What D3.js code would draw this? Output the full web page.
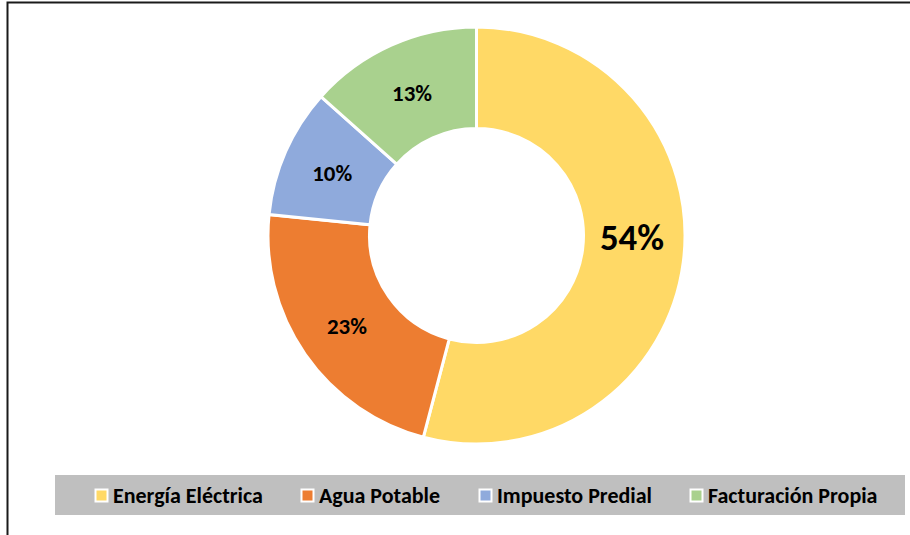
<!DOCTYPE html>
<html><head><meta charset="utf-8">
<script src="https://cdn.jsdelivr.net/npm/d3@7"></script>
<style>body{margin:0;background:#fff}svg{display:block}</style>
</head><body>
<svg id="c" width="910" height="535"></svg>
<script>
const categories = ["Energía Eléctrica", "Agua Potable", "Impuesto Predial", "Facturación Propia"];
const values = [54.1, 22.5, 10.0, 13.4];
const colors = ["#FFD966", "#ED7D31", "#8FAADC", "#A9D18E"];

const FONT = "Carlito, Calibri, 'Open Sans', sans-serif";
const svg = d3.select("#c");

function fitSize(txt, target, base) {
  const t = svg.append("text").attr("font-family", FONT).attr("font-weight", "bold")
    .attr("font-size", base).text(txt);
  const w = t.node().getComputedTextLength();
  t.remove();
  return base * target / w;
}

// frame
svg.append("rect").attr("x", 7.5).attr("y", 2.5).attr("width", 920).attr("height", 560)
  .attr("fill", "none").attr("stroke", "#1a1a1a").attr("stroke-width", 2);

const cx = 476.5, cy = 235.5, R = 208.5, r = 107;
const pie = d3.pie().sort(null).value(d => d)(values);
const arc = d3.arc().innerRadius(r).outerRadius(R);
const g = svg.append("g").attr("transform", `translate(${cx},${cy})`);
g.selectAll("path").data(pie).join("path")
  .attr("d", arc).attr("fill", (d, i) => colors[i])
  .attr("stroke", "#fff").attr("stroke-width", 3).attr("stroke-linejoin", "miter");

const smallSize = fitSize("13%", 40, 18);
const bigSize = fitSize("54%", 64, 30);
const labelArc = d3.arc().innerRadius((R + r) / 2).outerRadius((R + r) / 2);
g.selectAll("text").data(pie).join("text")
  .attr("x", d => labelArc.centroid(d)[0] - (d.index === 0 ? 1 : 0))
  .attr("y", d => labelArc.centroid(d)[1] + (d.index === 0 ? -18 : 1))
  .attr("text-anchor", "middle").attr("dominant-baseline", "central")
  .attr("font-family", FONT).attr("font-weight", "bold")
  .attr("font-size", d => d.index === 0 ? bigSize : smallSize)
  .attr("fill", "#000")
  .text(d => Math.round(d.data) + "%");

// legend
const legSize = fitSize(categories[0], 150, 18);
const lg = svg.append("g");
lg.append("rect").attr("x", 55).attr("y", 475).attr("width", 850).attr("height", 40).attr("fill", "#BFBFBF");
const legX = [95, 301, 479, 690];
categories.forEach((c, i) => {
  lg.append("rect").attr("x", legX[i] + 0.5).attr("y", 489.5).attr("width", 12).attr("height", 12)
    .attr("fill", colors[i]).attr("stroke", "#fff").attr("stroke-width", 2);
  lg.append("text").attr("x", legX[i] + 18).attr("y", 495.5)
    .attr("dominant-baseline", "central")
    .attr("font-family", FONT).attr("font-weight", "bold").attr("font-size", legSize).attr("fill", "#000")
    .text(c);
});
</script>
</body></html>
